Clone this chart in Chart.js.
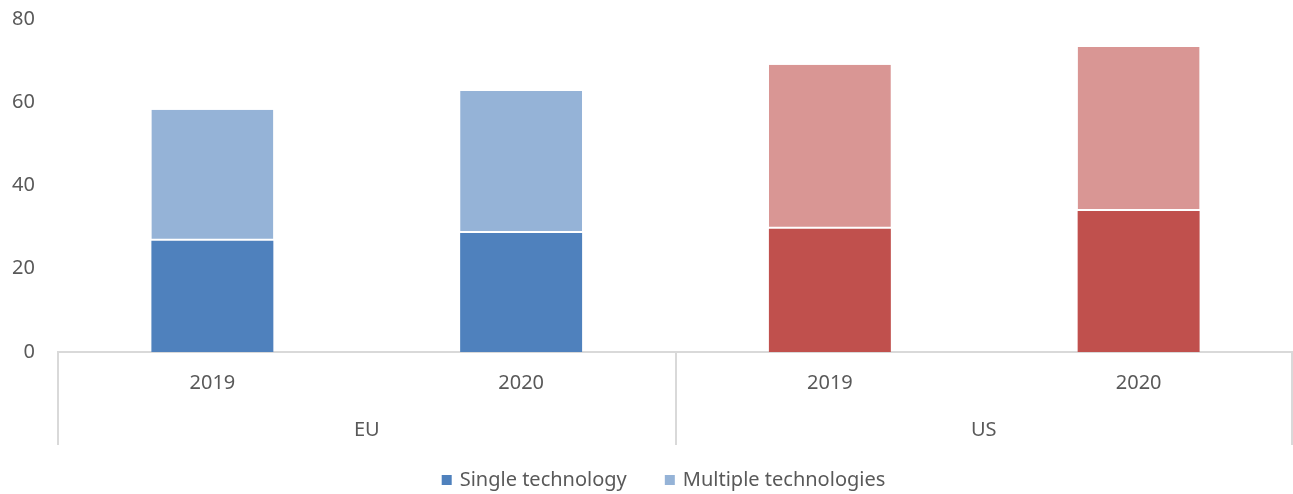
<!DOCTYPE html>
<html lang="en">
<head>
    <meta charset="UTF-8">
    <title>Single vs multiple technologies</title>
    <script src="https://cdn.jsdelivr.net/npm/chart.js"></script>
    <style>
        html, body { margin: 0; padding: 0; background: #fff; }
        #wrap { width: 1293px; height: 494px; }
    </style>
</head>
<body>
    <div id="wrap"><canvas id="chart"></canvas></div>

    <script>
        // Data
        const years = ['2019', '2020', '2019', '2020'];
        const groups = ['EU', 'US'];
        const groupSizes = [2, 2];
        const singleTech = [26.7, 28.6, 29.6, 33.9];
        const multipleTech = [31.5, 34.1, 39.4, 39.4];
        const yTicks = [0, 20, 40, 60, 80];

        const singleColors = ['#4F81BD', '#4F81BD', '#C0504D', '#C0504D'];
        const multipleColors = ['#95B3D7', '#95B3D7', '#D99694', '#D99694'];

        const textColor = '#595959';
        const fontFamily = '"Noto Sans", sans-serif';
        const fontSize = 20;

        // Draws the EU / US row, the separator lines under the axis and the legend
        const groupAxis = {
            id: 'groupAxis',
            afterDraw(chart) {
                const x = chart.scales.x;
                const ctx = chart.ctx;
                const top = x.top;
                const bottom = top + 93;
                const edges = [x.left];
                let idx = 0;
                groupSizes.forEach(n => {
                    idx += n;
                    if (idx < years.length) {
                        edges.push((x.getPixelForValue(idx - 1) + x.getPixelForValue(idx)) / 2);
                    } else {
                        edges.push(x.right - 1);
                    }
                });
                ctx.save();
                ctx.strokeStyle = '#D9D9D9';
                ctx.lineWidth = 2;
                edges.forEach(px => {
                    ctx.beginPath();
                    ctx.moveTo(Math.round(px), top);
                    ctx.lineTo(Math.round(px), bottom);
                    ctx.stroke();
                });
                ctx.fillStyle = textColor;
                ctx.font = fontSize + 'px ' + fontFamily;
                ctx.textAlign = 'center';
                ctx.textBaseline = 'middle';
                groups.forEach((g, i) => {
                    ctx.fillText(g, (edges[i] + edges[i + 1]) / 2, top + 78);
                });

                // legend
                const box = 10, gap = 8, spacing = 38;
                const items = chart.data.datasets.map(ds => ({
                    text: ds.label,
                    color: ds.backgroundColor[0],
                    w: box + gap + ctx.measureText(ds.label).width
                }));
                const total = items.reduce((s, it) => s + it.w, 0) + spacing * (items.length - 1);
                let lx = (x.left + x.right) / 2 - total / 2 - 12;
                const ly = 480;
                ctx.textAlign = 'left';
                items.forEach(it => {
                    ctx.fillStyle = it.color;
                    ctx.fillRect(lx, ly - box / 2, box, box);
                    ctx.fillStyle = textColor;
                    ctx.fillText(it.text, lx + box + gap, ly);
                    lx += it.w + spacing;
                });
                ctx.restore();
            }
        };

        new Chart(document.getElementById('chart'), {
            type: 'bar',
            data: {
                labels: years,
                datasets: [{
                    label: 'Single technology',
                    data: singleTech,
                    backgroundColor: singleColors,
                    borderWidth: 0
                }, {
                    label: 'Multiple technologies',
                    data: multipleTech,
                    backgroundColor: multipleColors,
                    borderColor: '#FFFFFF',
                    borderSkipped: false,
                    borderWidth: { top: 0, left: 0, right: 0, bottom: 2 }
                }]
            },
            options: {
                responsive: true,
                maintainAspectRatio: false,
                animation: false,
                layout: { padding: { top: 19, right: 0, left: 0, bottom: 36 } },
                datasets: {
                    bar: { categoryPercentage: 1, barPercentage: 0.395 }
                },
                plugins: {
                    tooltip: { enabled: false },
                    legend: { display: false }
                },
                scales: {
                    x: {
                        stacked: true,
                        grid: { display: false, drawTicks: false },
                        border: { display: true, color: '#D9D9D9', width: 2 },
                        ticks: {
                            color: textColor,
                            font: { family: fontFamily, size: fontSize },
                            padding: 19
                        },
                        afterFit(scale) { scale.height = 106; }
                    },
                    y: {
                        stacked: true,
                        min: 0,
                        max: 80,
                        afterBuildTicks(scale) { scale.ticks = yTicks.map(v => ({ value: v })); },
                        grid: { display: false },
                        border: { display: false },
                        ticks: {
                            color: textColor,
                            font: { family: fontFamily, size: fontSize },
                            padding: 15
                        },
                        afterFit(scale) {
                            scale.width = 58;
                            scale.paddingTop = 0;
                        }
                    }
                }
            },
            plugins: [groupAxis]
        });
    </script>
</body>
</html>
